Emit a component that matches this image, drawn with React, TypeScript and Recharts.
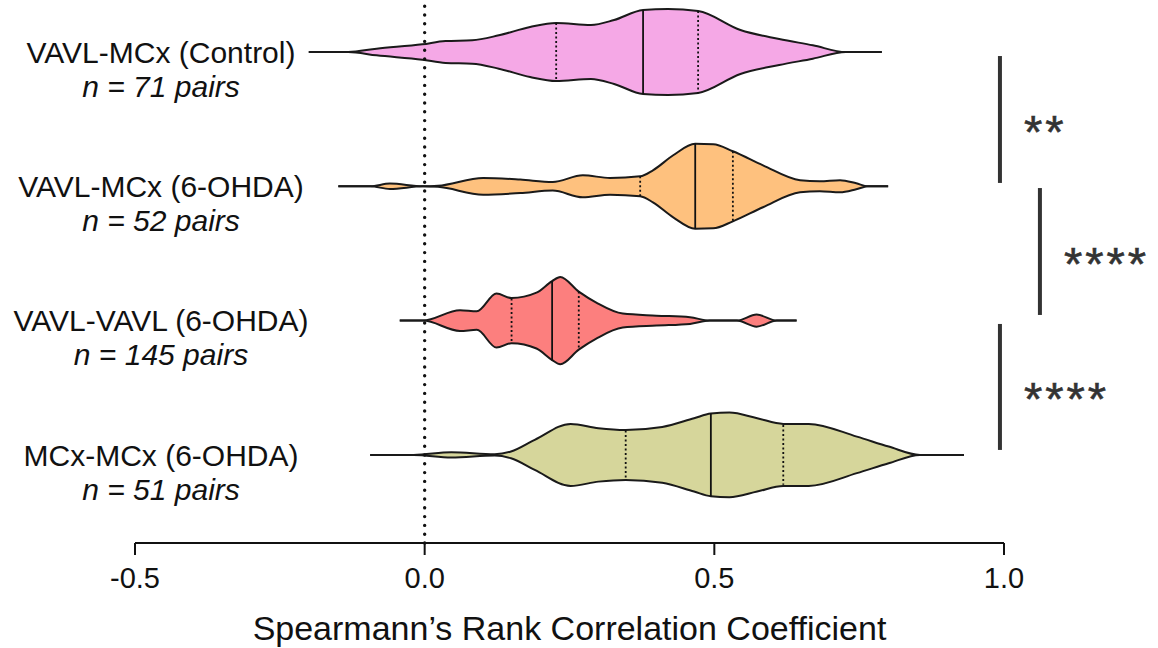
import React from 'react';
import { ComposedChart, Area, XAxis, YAxis, ReferenceLine } from 'recharts';

const FONT = '"Liberation Sans", Arial, Helvetica, sans-serif';

const categories = ['VAVL-MCx (Control)', 'VAVL-MCx (6-OHDA)', 'VAVL-VAVL (6-OHDA)', 'MCx-MCx (6-OHDA)'];
const pairCounts = ['n = 71 pairs', 'n = 52 pairs', 'n = 145 pairs', 'n = 51 pairs'];
const xTicks = [-0.5, 0, 0.5, 1.0];
const groupPositions = [1, 2, 3, 4];
const violinColors = ['#F5A8E6', '#FEC17E', '#FC7F7E', '#D6D69B'];

// violin outlines: coefficient values and half-widths (in category units)
const v1X = [-0.2, -0.132, -0.083, -0.004, 0.036, 0.082, 0.128, 0.182, 0.227, 0.287, 0.327, 0.377, 0.42, 0.472, 0.545, 0.612, 0.67, 0.727, 0.789];
const v1W = [0, 0, 0.025, 0.057, 0.082, 0.087, 0.124, 0.186, 0.216, 0.201, 0.238, 0.313, 0.32, 0.305, 0.164, 0.097, 0.05, 0, 0];

const v2X = [-0.149, -0.094, -0.06, -0.003, 0.023, 0.101, 0.165, 0.221, 0.273, 0.32, 0.372, 0.394, 0.429, 0.467, 0.498, 0.532, 0.584, 0.648, 0.682, 0.717, 0.745, 0.765, 0.8];
const v2W = [0, 0, 0.02, 0, 0.004, 0.062, 0.05, 0.032, 0.082, 0.062, 0.074, 0.119, 0.231, 0.316, 0.313, 0.261, 0.156, 0.045, 0.037, 0.045, 0.022, 0, 0];

const v3X = [-0.043, -0.003, 0.061, 0.09, 0.124, 0.15, 0.193, 0.22, 0.234, 0.266, 0.297, 0.342, 0.4, 0.458, 0.492, 0.539, 0.573, 0.608, 0.642];
const v3W = [0, 0, 0.077, 0.069, 0.201, 0.168, 0.208, 0.294, 0.325, 0.216, 0.132, 0.052, 0.037, 0.025, 0, 0, 0.045, 0, 0];

const v4X = [-0.094, -0.019, 0.046, 0.121, 0.149, 0.19, 0.252, 0.3, 0.347, 0.41, 0.465, 0.494, 0.526, 0.574, 0.619, 0.663, 0.746, 0.801, 0.855, 0.931];
const v4W = [0, 0, 0.02, 0.005, 0.025, 0.112, 0.231, 0.199, 0.186, 0.208, 0.273, 0.308, 0.315, 0.273, 0.231, 0.231, 0.136, 0.062, 0, 0];

const violinXs = [v1X, v2X, v3X, v4X];
const violinWs = [v1W, v2W, v3W, v4W];

// quartiles and medians with their half-heights
const q1Values = [0.227, 0.372, 0.15, 0.347];
const q1Heights = [0.216, 0.074, 0.164, 0.182];
const medianValues = [0.377, 0.467, 0.22, 0.494];
const medianHeights = [0.313, 0.316, 0.296, 0.308];
const q3Values = [0.472, 0.532, 0.266, 0.619];
const q3Heights = [0.305, 0.261, 0.216, 0.223];

// significance brackets
const sigLabels = ['**', '****', '****'];
const sigX = [0.993, 1.062, 0.993];
const sigFrom = [1.03, 2.013, 3.025];
const sigTo = [1.975, 2.958, 3.963];

const violinData = violinXs.map((xs, i) =>
  xs.map((x, k) => ({ x, range: [groupPositions[i] - violinWs[i][k], groupPositions[i] + violinWs[i][k]] }))
);

const CategoryTick = (props: any) => {
  const { x, y, payload } = props;
  const i = groupPositions.indexOf(payload.value);
  if (i < 0) return null;
  const cx = x + 26;
  return (
    <g>
      <text x={cx} y={y} dy="0.36em" textAnchor="middle" fontSize={30} fill="#111" fontFamily={FONT}>
        {categories[i]}
      </text>
      <text x={cx} y={y + 34} dy="0.36em" textAnchor="middle" fontSize={30} fontStyle="italic" fill="#111" fontFamily={FONT}>
        {pairCounts[i]}
      </text>
    </g>
  );
};

const sigLabel = (text: string) => (props: any) => {
  const vb = props.viewBox || {};
  const cx = (vb.x ?? 0) + 24;
  const cy = (vb.y ?? 0) + (vb.height ?? 0) / 2 + 2.5;
  return (
    <text x={cx} y={cy + 26} fontSize={47} letterSpacing={3} fill="#333" stroke="#333" strokeWidth={0.6} fontFamily={FONT}>
      {text}
    </text>
  );
};

export default function App() {
  return (
    <div style={{ position: 'fixed', left: 0, top: 0, width: 1158, height: 648, background: '#fff' }}>
      <ComposedChart width={1158} height={648} margin={{ top: 0, right: 154, bottom: 0, left: 0 }} style={{ fontFamily: FONT }}>
        <XAxis
          type="number"
          dataKey="x"
          domain={[-0.5, 1]}
          ticks={xTicks}
          allowDataOverflow
          tickFormatter={(v: number) => v.toFixed(1)}
          axisLine={{ stroke: '#111', strokeWidth: 2 }}
          tickLine={{ stroke: '#111', strokeWidth: 2 }}
          tickSize={12}
          tickMargin={12}
          tick={{ fontSize: 29, fill: '#111', fontFamily: FONT }}
          height={105}
          label={{ value: 'Spearmann\u2019s Rank Correlation Coefficient', position: 'insideBottom', offset: 8, fontSize: 34, fill: '#111', fontFamily: FONT }}
        />
        <YAxis
          type="number"
          domain={[0.6128, 4.656]}
          reversed
          allowDataOverflow
          ticks={groupPositions}
          interval={0}
          axisLine={false}
          tickLine={false}
          tickSize={0}
          tickMargin={0}
          width={135}
          tick={<CategoryTick />}
        />
        <ReferenceLine x={0} stroke="#111" strokeWidth={3.4} strokeDasharray="0 8.8" strokeLinecap="round" />
        {violinData.map((d, i) => (
          <Area
            key={'v' + i}
            data={d}
            dataKey="range"
            type="monotone"
            fill={violinColors[i]}
            fillOpacity={1}
            stroke="#1a1a1a"
            strokeWidth={2}
            dot={false}
            activeDot={false}
            isAnimationActive={false}
          />
        ))}
        {groupPositions.map((p, i) => (
          <ReferenceLine
            key={'q1' + i}
            segment={[{ x: q1Values[i], y: p - q1Heights[i] }, { x: q1Values[i], y: p + q1Heights[i] }]}
            stroke="#111"
            strokeWidth={1.8}
            strokeDasharray="2 2.5"
          />
        ))}
        {groupPositions.map((p, i) => (
          <ReferenceLine
            key={'md' + i}
            segment={[{ x: medianValues[i], y: p - medianHeights[i] }, { x: medianValues[i], y: p + medianHeights[i] }]}
            stroke="#111"
            strokeWidth={1.8}
          />
        ))}
        {groupPositions.map((p, i) => (
          <ReferenceLine
            key={'q3' + i}
            segment={[{ x: q3Values[i], y: p - q3Heights[i] }, { x: q3Values[i], y: p + q3Heights[i] }]}
            stroke="#111"
            strokeWidth={1.8}
            strokeDasharray="2 2.5"
          />
        ))}
        {sigLabels.map((s, i) => (
          <ReferenceLine
            key={'sig' + i}
            segment={[{ x: sigX[i], y: sigFrom[i] }, { x: sigX[i], y: sigTo[i] }]}
            stroke="#333"
            strokeWidth={4}
            ifOverflow="visible"
            label={sigLabel(s)}
          />
        ))}
      </ComposedChart>
    </div>
  );
}
